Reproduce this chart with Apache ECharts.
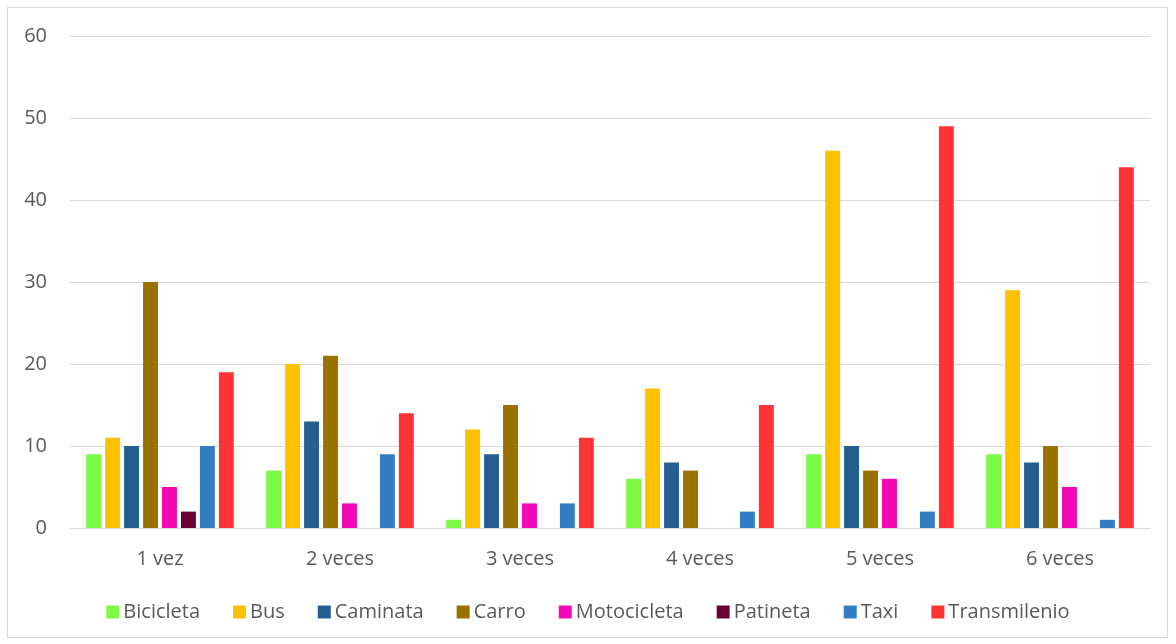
<!DOCTYPE html>
<html>
<head>
<meta charset="utf-8">
<script src="https://cdn.jsdelivr.net/npm/echarts@6/dist/echarts.min.js"></script>
<style>
  html, body { margin: 0; padding: 0; background: #fff; }
  #frame { position: absolute; left: 7px; top: 7px; width: 1161px; height: 631px; border: 1px solid #d9d9d9; box-sizing: border-box; }
  #chart { position: absolute; left: 0; top: 0; width: 1176px; height: 644px; }
</style>
</head>
<body>
<div id="frame"></div>
<div id="chart"></div>
<script>
const categories = ['1 vez', '2 veces', '3 veces', '4 veces', '5 veces', '6 veces']
const bicicleta = [9, 7, 1, 6, 9, 9]
const bus = [11, 20, 12, 17, 46, 29]
const caminata = [10, 13, 9, 8, 10, 8]
const carro = [30, 21, 15, 7, 7, 10]
const motocicleta = [5, 3, 3, 0, 6, 5]
const patineta = [2, 0, 0, 0, 0, 0]
const taxi = [10, 9, 3, 2, 2, 1]
const transmilenio = [19, 14, 11, 15, 49, 44]

const seriesDefs = [
  { name: 'Bicicleta', data: bicicleta, color: '#7CFA45' },
  { name: 'Bus', data: bus, color: '#FFC000' },
  { name: 'Caminata', data: caminata, color: '#255E91' },
  { name: 'Carro', data: carro, color: '#997300' },
  { name: 'Motocicleta', data: motocicleta, color: '#F20AB6' },
  { name: 'Patineta', data: patineta, color: '#6B0033' },
  { name: 'Taxi', data: taxi, color: '#337EC2' },
  { name: 'Transmilenio', data: transmilenio, color: '#FF3535' }
]

const chart = echarts.init(document.getElementById('chart'))
chart.setOption({
  animation: false,
  textStyle: { fontFamily: 'Open Sans' },
  legend: {
    bottom: 17,
    left: 'center',
    itemWidth: 13,
    itemHeight: 13,
    itemGap: 33,
    icon: 'rect',
    textStyle: { color: '#595959', fontSize: 20, padding: [0, 0, 0, -1] },
    data: seriesDefs.map(s => s.name)
  },
  grid: { left: 70, right: 26, top: 36, bottom: 116 },
  xAxis: {
    type: 'category',
    data: categories,
    axisLine: { lineStyle: { color: '#d9d9d9', width: 1 } },
    axisTick: { show: false },
    axisLabel: { color: '#595959', fontSize: 20, margin: 21 }
  },
  yAxis: {
    type: 'value',
    min: 0,
    max: 60,
    interval: 10,
    axisLine: { show: false },
    axisTick: { show: false },
    axisLabel: { color: '#595959', fontSize: 20, margin: 23 },
    splitLine: { lineStyle: { color: '#d9d9d9', width: 1 } }
  },
  series: seriesDefs.map(s => ({
    name: s.name,
    type: 'bar',
    data: s.data,
    itemStyle: { color: s.color },
    barGap: '27%',
    barCategoryGap: '18%'
  }))
})
</script>
</body>
</html>
